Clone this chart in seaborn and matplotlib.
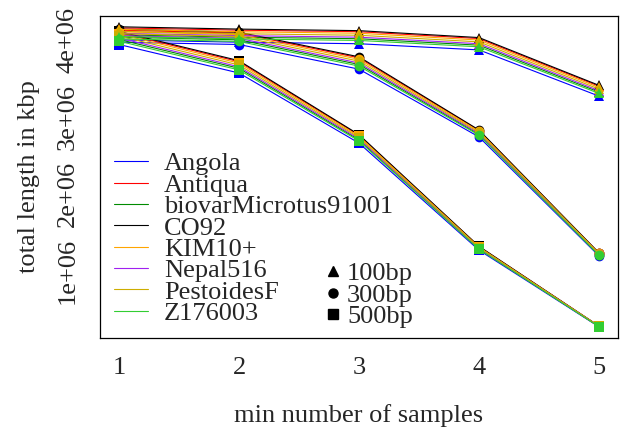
import matplotlib
matplotlib.use("Agg")
import matplotlib.pyplot as plt
from matplotlib.lines import Line2D
import numpy as np
import pandas as pd
import seaborn as sns

# strains and their line colours
strains = ["Angola", "Antiqua", "biovarMicrotus91001", "CO92",
           "KIM10+", "Nepal516", "PestoidesF", "Z176003"]
strain_colors = ["#0000FF", "#FF0000", "#008B00", "#000000",
                 "#FFA500", "#A020F0", "#CDAD00", "#32CD32"]

min_samples = [1, 2, 3, 4, 5]
read_sizes = ["100bp", "300bp", "500bp"]

# total length (bp) per strain (rows, same order as `strains`) per min number of samples
len_100bp = [
    [4.000e6, 3.970e6, 3.950e6, 3.870e6, 3.270e6],   # Angola
    [4.156e6, 4.126e6, 4.106e6, 4.017e6, 3.399e6],   # Antiqua
    [4.065e6, 4.035e6, 4.015e6, 3.931e6, 3.323e6],   # biovarMicrotus91001
    [4.170e6, 4.140e6, 4.120e6, 4.030e6, 3.410e6],   # CO92
    [4.136e6, 4.106e6, 4.086e6, 3.998e6, 3.382e6],   # KIM10+
    [4.085e6, 4.055e6, 4.035e6, 3.950e6, 3.340e6],   # Nepal516
    [4.110e6, 4.080e6, 4.060e6, 3.974e6, 3.361e6],   # PestoidesF
    [4.043e6, 4.013e6, 3.993e6, 3.910e6, 3.305e6],   # Z176003
]
len_300bp = [
    [3.970e6, 3.940e6, 3.620e6, 2.740e6, 1.195e6],
    [4.126e6, 4.087e6, 3.767e6, 2.823e6, 1.232e6],
    [4.035e6, 4.001e6, 3.681e6, 2.774e6, 1.210e6],
    [4.140e6, 4.100e6, 3.780e6, 2.830e6, 1.235e6],
    [4.106e6, 4.068e6, 3.748e6, 2.812e6, 1.227e6],
    [4.055e6, 4.020e6, 3.700e6, 2.785e6, 1.215e6],
    [4.080e6, 4.044e6, 3.724e6, 2.799e6, 1.221e6],
    [4.013e6, 3.980e6, 3.660e6, 2.763e6, 1.205e6],
]
len_500bp = [
    [3.940e6, 3.570e6, 2.660e6, 1.270e6, 0.2750e6],
    [4.096e6, 3.717e6, 2.761e6, 1.316e6, 0.2840e6],
    [4.005e6, 3.631e6, 2.702e6, 1.289e6, 0.2790e6],
    [4.110e6, 3.730e6, 2.770e6, 1.320e6, 0.2850e6],
    [4.076e6, 3.698e6, 2.748e6, 1.310e6, 0.2830e6],
    [4.025e6, 3.650e6, 2.715e6, 1.295e6, 0.2800e6],
    [4.050e6, 3.674e6, 2.732e6, 1.303e6, 0.2815e6],
    [3.983e6, 3.610e6, 2.688e6, 1.283e6, 0.2775e6],
]

y_ticks = [1e6, 2e6, 3e6, 4e6]
y_tick_labels = ["1e+06", "2e+06", "3e+06", "4e+06"]
size_markers = {"100bp": "^", "300bp": "o", "500bp": "s"}

# long-form table
rows = []
for size, table in zip(read_sizes, [len_100bp, len_300bp, len_500bp]):
    for strain, vals in zip(strains, table):
        for x, v in zip(min_samples, vals):
            rows.append({"samples": x, "length": v, "strain": strain, "size": size})
df = pd.DataFrame(rows)

sns.set_style("white")
plt.rcParams["font.family"] = ["Liberation Serif", "DejaVu Serif"]
FS = 19

fig = plt.figure(figsize=(6.21, 4.29), dpi=100)
ax = fig.add_axes([100 / 621, 1 - 338 / 429, 518 / 621, 322 / 429])

sns.lineplot(data=df, x="samples", y="length", hue="strain", style="size",
             hue_order=strains, palette=dict(zip(strains, strain_colors)),
             style_order=read_sizes, markers=size_markers, dashes=False,
             markersize=7, markeredgewidth=0, linewidth=0.8,
             legend=False, ax=ax, estimator=None, sort=True)

ax.set_xlim(1 - 19 / 120, 5 + 19 / 120)
ax.set_ylim(0.13e6, 4.31e6)
ax.set_xticks(min_samples)
ax.set_xticklabels([str(v) for v in min_samples], fontsize=FS)
ax.set_yticks(y_ticks)
ax.set_yticklabels(y_tick_labels, fontsize=FS, rotation=90, va="center")
ax.tick_params(axis="both", direction="out", length=5.5, width=0.8, color="black")
ax.tick_params(axis="x", pad=8)
ax.tick_params(axis="y", pad=10)
for sp in ax.spines.values():
    sp.set_color("black")
    sp.set_linewidth(0.9)

ax.set_xlabel("min number of samples", fontsize=FS, labelpad=18)
ax.set_ylabel("total length in kbp", fontsize=FS, labelpad=12)

# strain legend (colour)
strain_handles = [Line2D([], [], color=c, lw=0.8) for c in strain_colors]
leg1 = ax.legend(strain_handles, strains, loc="upper left",
                 bbox_to_anchor=(114 / 621, 1 - 152 / 429), bbox_transform=fig.transFigure,
                 frameon=False, fontsize=FS, handlelength=1.3, handletextpad=0.6,
                 labelspacing=-0.08, borderpad=0, borderaxespad=0)
ax.add_artist(leg1)

# read-size legend (marker shape)
size_handles = [Line2D([], [], color="black", lw=0, marker=size_markers[s], markersize=6.5)
                for s in read_sizes]
ax.legend(size_handles, read_sizes, loc="upper left",
          bbox_to_anchor=(322 / 621, 1 - 262 / 429), bbox_transform=fig.transFigure,
          frameon=False, fontsize=FS, handlelength=0.8, handletextpad=0.15,
          labelspacing=-0.08, borderpad=0, borderaxespad=0)

fig.savefig("out.png", dpi=100)
